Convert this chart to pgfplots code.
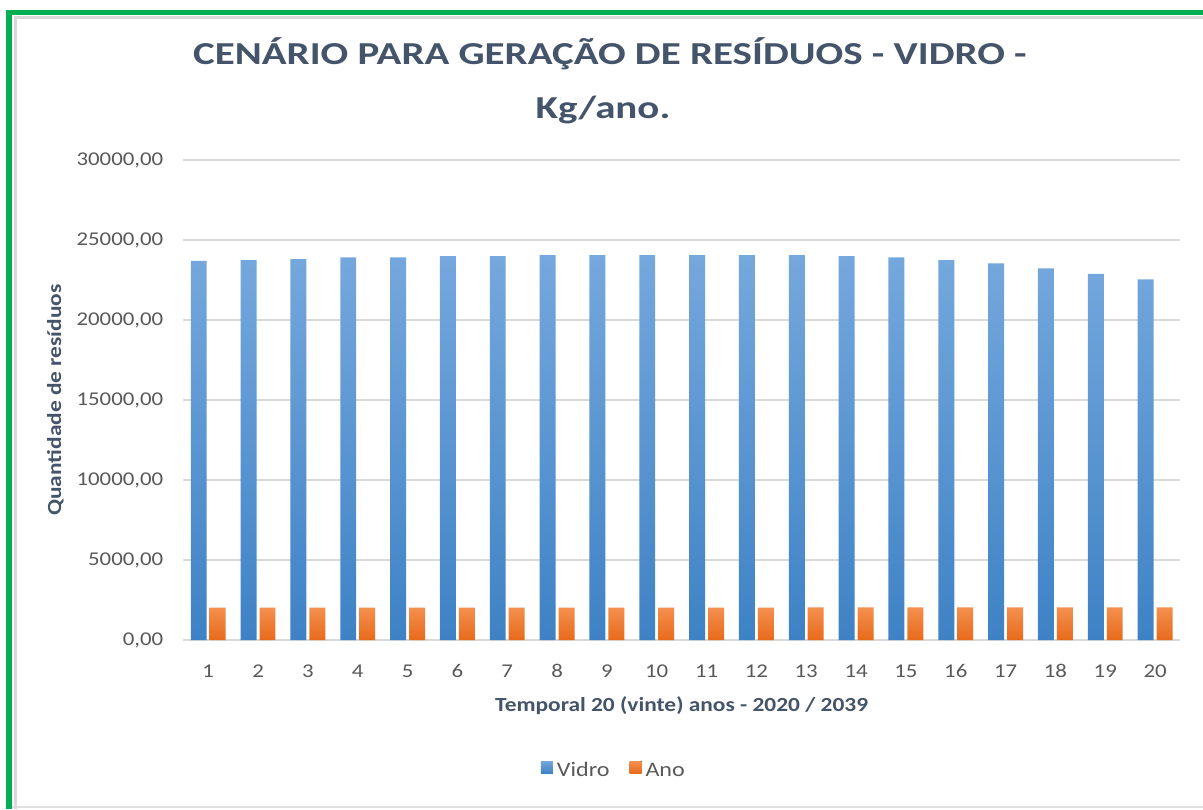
\documentclass[border=0pt]{standalone}
\usepackage{fontspec}
\setmainfont{Carlito}[FakeStretch=1.17]
\newfontfamily\titlefont{Carlito}[FakeStretch=1.28]
\usepackage{pgfplots}
\pgfplotsset{compat=1.18}
\definecolor{titlec}{HTML}{44546A}
\definecolor{tickc}{HTML}{595959}
\definecolor{gridc}{HTML}{D9D9D9}
\definecolor{blueT}{HTML}{75A8DD}
\definecolor{blueB}{HTML}{3E82C5}
\definecolor{orT}{HTML}{F4904F}
\definecolor{orB}{HTML}{E86A1B}
\definecolor{framec}{HTML}{00B050}
\begin{document}
\begin{tikzpicture}
\useasboundingbox (0,0) rectangle (601.5pt,404.5pt);
\fill[white] (0,0) rectangle (601.5pt,404.5pt);
\draw[black!12, line width=1pt] (4.5pt,1pt) -- (601.5pt,1pt);
\draw[black!15, line width=1.5pt] (7.5pt,0pt) -- (7.5pt,395.5pt) -- (601.5pt,395.5pt);
\draw[framec, line width=2.8pt] (4.5pt,0pt) -- (4.5pt,398.25pt) -- (601.5pt,398.25pt);
\node[anchor=base, text=titlec, font=\titlefont\bfseries\fontsize{16}{19}\selectfont] at (305pt,372pt) {CENÁRIO PARA GERAÇÃO DE RESÍDUOS - VIDRO -};
\node[anchor=base, text=titlec, font=\titlefont\bfseries\fontsize{16}{19}\selectfont] at (301.5pt,345pt) {Kg/ano.};
\begin{axis}[
  at={(91.65pt,84.5pt)}, anchor=south west,
  scale only axis, width=498.35pt, height=240pt,
  xmin=0.5, xmax=20.5, ymin=0, ymax=30000,
  xtick={1,...,20}, ytick={0,5000,...,30000},
  scaled ticks=false,
  major tick length=0pt,
  axis line style={draw=none},
  ymajorgrids, grid style={gridc, line width=1pt},
  /pgf/number format/assume math mode=true,
  yticklabel style={xshift=-6.5pt, /pgf/number format/fixed, /pgf/number format/fixed zerofill, /pgf/number format/precision=2, /pgf/number format/use comma, /pgf/number format/1000 sep={}},
  xticklabel style={anchor=base, yshift=-18.5pt},
  ticklabel style={font=\fontsize{9.75}{12}\selectfont, text=tickc},
  xlabel={Temporal 20 (vinte) anos - 2020 / 2039},
  ylabel={Quantidade de resíduos},
  xlabel style={at={(axis description cs:0.5,-0.149)}, anchor=base, font=\bfseries\fontsize{10}{12}\selectfont, text=titlec},
  ylabel style={at={(axis description cs:-0.1284,0.5)}, anchor=center, font=\bfseries\fontsize{10}{12}\selectfont, text=titlec},
  legend style={at={(axis description cs:0.433,-0.273)}, anchor=center, draw=none, fill=none, font=\fontsize{10.3}{12}\selectfont, text=tickc, legend columns=2, /tikz/every even column/.append style={column sep=8pt}},
  legend image code/.code={\fill[#1] (0pt,-1pt) rectangle (6pt,5pt);},
]
\addplot[ybar, bar width=0.32, bar shift=-0.19, draw=none, top color=blueT, bottom color=blueB] coordinates {
(1,23690) (2,23750) (3,23810) (4,23920) (5,23920) (6,24000) (7,24000) (8,24060) (9,24060) (10,24060)
(11,24060) (12,24060) (13,24060) (14,24000) (15,23920) (16,23750) (17,23540) (18,23230) (19,22880) (20,22540)};
\addlegendentry{Vidro}
\addplot[ybar, bar width=0.32, bar shift=0.19, draw=none, top color=orT, bottom color=orB] coordinates {
(1,2020) (2,2021) (3,2022) (4,2023) (5,2024) (6,2025) (7,2026) (8,2027) (9,2028) (10,2029)
(11,2030) (12,2031) (13,2032) (14,2033) (15,2034) (16,2035) (17,2036) (18,2037) (19,2038) (20,2039)};
\addlegendentry{Ano}
\end{axis}
\end{tikzpicture}
\end{document}
